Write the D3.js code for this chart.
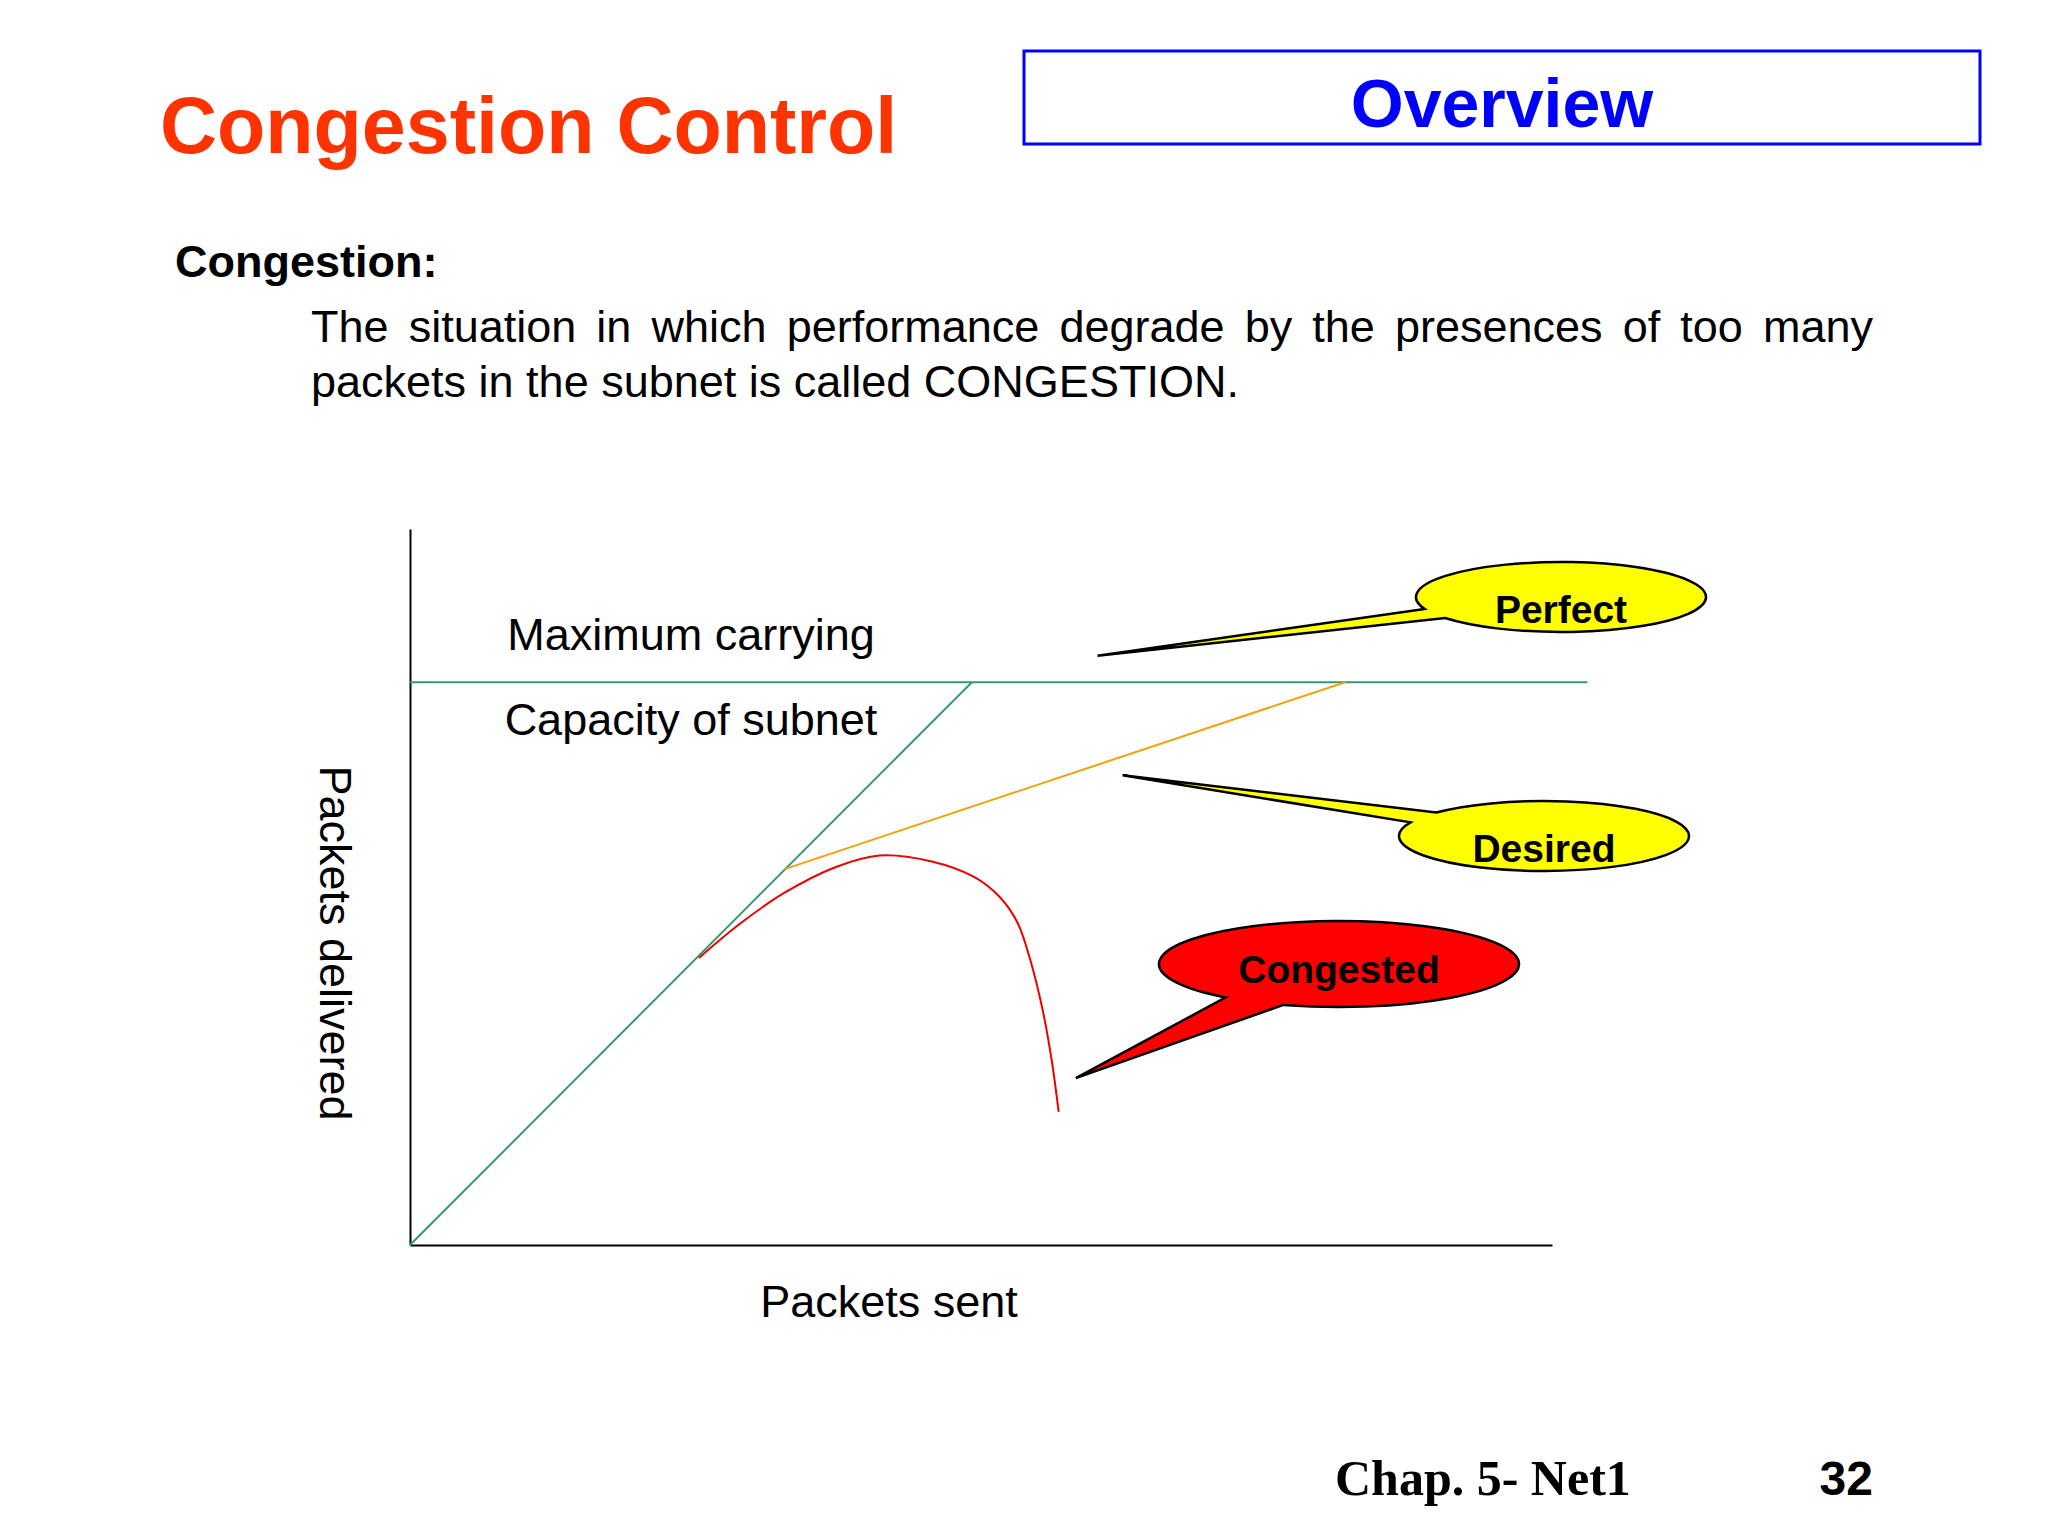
<!DOCTYPE html>
<html>
<head>
<meta charset="utf-8">
<script src="https://cdn.jsdelivr.net/npm/d3@7"></script>
<style>
  html, body { margin: 0; padding: 0; background: #fff; }
  svg { display: block; font-family: "Liberation Sans", Arial, sans-serif; }
</style>
</head>
<body>
<div id="slide"></div>
<script>
// chart data (packets sent vs packets delivered, arbitrary units 0..100)
var capacity = 78.6;
var capacityX = [0, 103.1];
var capacityY = [capacity, capacity];
var perfectX = [0, 49.2];
var perfectY = [0, capacity];
var desiredX = [32.8, 81.9];
var desiredY = [52.5, capacity];
var congestedX = [25.3, 29.0, 32.8, 37.3, 41.1, 45.6, 49.4, 51.7, 53.2, 54.3, 55.4, 56.2, 56.8];
var congestedY = [40.1, 45.0, 49.2, 52.8, 54.4, 53.6, 51.4, 48.5, 45.0, 39.9, 32.8, 25.7, 18.6];

var calloutNames = ['Perfect', 'Desired', 'Congested'];
var calloutTipX = [60.2, 62.4, 58.3];
var calloutTipY = [82.3, 65.6, 23.3];

var W = 2048, H = 1536;

var svg = d3.select('#slide')
  .append('svg')
  .attr('width', W)
  .attr('height', H);

svg.append('rect').attr('width', W).attr('height', H).attr('fill', '#fff');

// header
svg.append('text')
  .attr('x', 160).attr('y', 153)
  .attr('font-size', 79).attr('font-weight', 'bold')
  .attr('fill', '#ff3300')
  .text('Congestion Control');

svg.append('rect')
  .attr('x', 1024).attr('y', 51)
  .attr('width', 956).attr('height', 93)
  .attr('fill', 'none')
  .attr('stroke', '#0000ff')
  .attr('stroke-width', 3);

svg.append('text')
  .attr('x', 1502).attr('y', 127)
  .attr('text-anchor', 'middle')
  .attr('font-size', 68).attr('font-weight', 'bold')
  .attr('fill', '#0000ff')
  .text('Overview');

svg.append('text')
  .attr('x', 175).attr('y', 277)
  .attr('font-size', 45).attr('font-weight', 'bold')
  .text('Congestion:');

// justified first line of the definition
var line1 = 'The situation in which performance degrade by the presences of too many'.split(' ');
var left = 311, right = 1873;
var words = svg.append('g').attr('font-size', 45);
var ws = words.selectAll('text').data(line1).enter().append('text')
  .attr('y', 342)
  .text(function(d) { return d; });
var widths = [];
ws.each(function() { widths.push(this.getComputedTextLength()); });
var gap = (right - left - d3.sum(widths)) / (line1.length - 1);
var cx = left;
ws.attr('x', function(d, i) { var v = cx; cx += widths[i] + gap; return v; });

svg.append('text')
  .attr('x', left).attr('y', 397)
  .attr('font-size', 45)
  .text('packets in the subnet is called CONGESTION.');

// chart
var x = d3.scaleLinear().domain([0, 100]).range([410, 1552]);
var y = d3.scaleLinear().domain([0, 100]).range([1245, 529]);

svg.append('g')
  .attr('transform', 'translate(0,' + y(0) + ')')
  .call(d3.axisBottom(x).ticks(0).tickSizeOuter(0));
svg.append('g')
  .attr('transform', 'translate(' + x(0) + ',0)')
  .call(d3.axisLeft(y).ticks(0).tickSizeOuter(0));
svg.selectAll('.domain').attr('stroke', '#000').attr('stroke-width', 2);

var line = d3.line()
  .x(function(d) { return x(d[0]); })
  .y(function(d) { return y(d[1]); });

var series = [
  {xs: capacityX, ys: capacityY, color: '#339977', curve: d3.curveLinear},
  {xs: perfectX, ys: perfectY, color: '#339977', curve: d3.curveLinear},
  {xs: desiredX, ys: desiredY, color: '#f5a00a', curve: d3.curveLinear},
  {xs: congestedX, ys: congestedY, color: '#ee0000', curve: d3.curveCatmullRom}
];

series.forEach(function(s) {
  svg.append('path')
    .datum(d3.zip(s.xs, s.ys))
    .attr('d', line.curve(s.curve))
    .attr('fill', 'none')
    .attr('stroke', s.color)
    .attr('stroke-width', 2);
});

// labels
svg.append('text')
  .attr('x', 691).attr('y', 650)
  .attr('text-anchor', 'middle').attr('font-size', 45)
  .text('Maximum carrying');
svg.append('text')
  .attr('x', 691).attr('y', 735)
  .attr('text-anchor', 'middle').attr('font-size', 45)
  .text('Capacity of subnet');

svg.append('text')
  .attr('x', 889).attr('y', 1317)
  .attr('text-anchor', 'middle').attr('font-size', 45)
  .text('Packets sent');
svg.append('text')
  .attr('transform', 'translate(320,943) rotate(90)')
  .attr('text-anchor', 'middle').attr('font-size', 45)
  .text('Packets delivered');

// callouts: ellipse with a wedge pointing at the curve
var bubbles = [
  {cx: 1561, cy: 597, rx: 145, ry: 35, a1: 160, a2: 143, fill: '#ffff00', ty: 623},
  {cx: 1544, cy: 836, rx: 145, ry: 35, a1: 222, a2: 203, fill: '#ffff00', ty: 862},
  {cx: 1339, cy: 964, rx: 180, ry: 43, a1: 129, a2: 108, fill: '#ff0000', ty: 983}
];

function pt(b, a) {
  var r = a * Math.PI / 180;
  return [b.cx + b.rx * Math.cos(r), b.cy + b.ry * Math.sin(r)];
}

bubbles.forEach(function(b, i) {
  var p1 = pt(b, b.a1), p2 = pt(b, b.a2);
  var tip = [x(calloutTipX[i]), y(calloutTipY[i])];
  var d = 'M' + p1 + ' A' + b.rx + ',' + b.ry + ' 0 1 1 ' + p2 + ' L' + tip + ' Z';
  svg.append('path')
    .attr('d', d)
    .attr('fill', b.fill)
    .attr('stroke', '#000')
    .attr('stroke-width', 2.5)
    .attr('stroke-linejoin', 'miter');
  svg.append('text')
    .attr('x', b.cx).attr('y', b.ty)
    .attr('text-anchor', 'middle')
    .attr('font-size', 39).attr('font-weight', 'bold')
    .text(calloutNames[i]);
});

// footer
svg.append('text')
  .attr('x', 1335).attr('y', 1495)
  .style('font-family', '"Liberation Serif", "Times New Roman", serif')
  .attr('font-size', 50).attr('font-weight', 'bold')
  .text('Chap. 5- Net1');
svg.append('text')
  .attr('x', 1873).attr('y', 1495)
  .attr('text-anchor', 'end')
  .attr('font-size', 48).attr('font-weight', 'bold')
  .text('32');
</script>
</body>
</html>
